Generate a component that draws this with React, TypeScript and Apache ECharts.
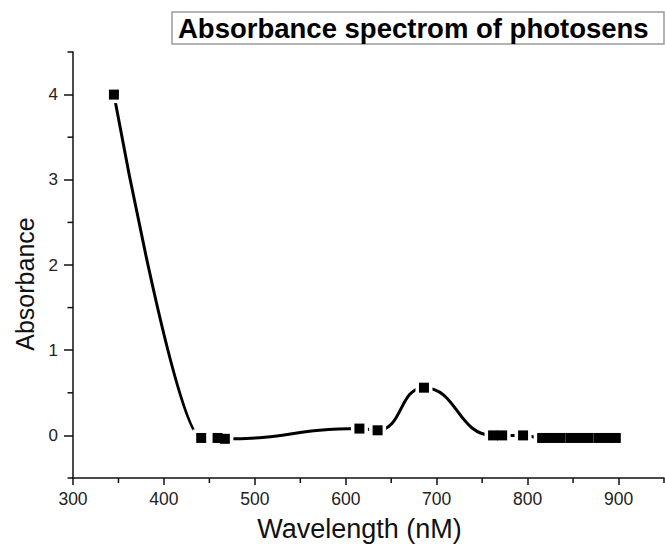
import React, { useEffect, useRef } from "react";
import * as echarts from "echarts";

const titleText = "Absorbance spectrom of photosens";
const xName = "Wavelength (nM)";
const yName = "Absorbance";

const wavelengths = [345, 441, 459, 467, 615, 635, 686, 762, 772, 795, 816, 826, 836, 847, 857, 867, 878, 888, 897];
const absorbance = [4.0, -0.03, -0.03, -0.04, 0.08, 0.06, 0.56, 0.0, 0.0, 0.0, -0.03, -0.03, -0.03, -0.03, -0.03, -0.03, -0.03, -0.03, -0.03];

const xMajorTicks = [300, 400, 500, 600, 700, 800, 900];
const xMinorTicks = [350, 450, 550, 650, 750, 850, 950];
const yMajorTicks = [0, 1, 2, 3, 4];
const yMinorTicks = [-0.5, 0.5, 1.5, 2.5, 3.5, 4.5];

const X_MIN = 300;
const X_MAX = 950;
const Y_MIN = -0.5;
const Y_MAX = 4.5;

const FONT = "Liberation Sans, Arial, sans-serif";
const W = 665;
const H = 547;
const GRID = { left: 73, right: 1, top: 52, bottom: 69 };

export default function App() {
  const ref = useRef<HTMLDivElement>(null);
  useEffect(() => {
    if (!ref.current) return;
    const chart = echarts.init(ref.current, null, { renderer: "svg" });
    const pts = wavelengths.map((w, i) => [w, absorbance[i]]);
    chart.setOption({
      animation: false,
      backgroundColor: "#fff",
      title: {
        text: titleText,
        left: 172,
        top: 12,
        borderColor: "#9a9a9a",
        borderWidth: 1.5,
        padding: [2, 16, 2, 6],
        textStyle: { fontFamily: FONT, fontSize: 27.5, fontWeight: "bold", color: "#000" },
      },
      grid: GRID,
      xAxis: {
        type: "value",
        min: X_MIN,
        max: X_MAX,
        position: "bottom",
        name: xName,
        nameLocation: "middle",
        nameGap: 37,
        nameTextStyle: { fontFamily: FONT, fontSize: 27, color: "#111", padding: [0, 18, 0, 0] },
        axisLine: { show: true, onZero: false, lineStyle: { color: "#111", width: 1.5 } },
        axisTick: { show: true, length: 7, customValues: xMajorTicks, lineStyle: { color: "#111", width: 1.5 } },
        axisLabel: { customValues: xMajorTicks, fontFamily: FONT, fontSize: 17.5, color: "#222", margin: 12 },
        splitLine: { show: false },
      },
      yAxis: {
        type: "value",
        min: Y_MIN,
        max: Y_MAX,
        position: "left",
        name: yName,
        nameLocation: "middle",
        nameGap: 36,
        nameTextStyle: { fontFamily: FONT, fontSize: 25, color: "#111", padding: [0, 38, 0, 0] },
        axisLine: { show: true, onZero: false, lineStyle: { color: "#111", width: 1.5 } },
        axisTick: { show: true, length: 9, customValues: yMajorTicks, lineStyle: { color: "#111", width: 1.5 } },
        axisLabel: { customValues: yMajorTicks, fontFamily: FONT, fontSize: 17, color: "#222", margin: 15 },
        splitLine: { show: false },
      },
      series: [
        {
          type: "line",
          data: pts.slice(0, 3),
          smooth: 0.25,
          showSymbol: false,
          lineStyle: { color: "#000", width: 3 },
          z: 1,
        },
        {
          type: "line",
          data: pts.slice(1),
          smooth: 0.5,
          showSymbol: false,
          lineStyle: { color: "#000", width: 3 },
          z: 1,
        },
        {
          type: "scatter",
          data: pts,
          symbol: "rect",
          symbolSize: 17,
          itemStyle: { color: "#fff", opacity: 1 },
          z: 2,
        },
        {
          type: "scatter",
          data: pts,
          symbol: "rect",
          symbolSize: 10,
          itemStyle: { color: "#000", opacity: 1 },
          z: 3,
        },
      ],
    });

    // minor ticks, positioned through the chart's own axis scales
    const tickStyle = { stroke: "#111", lineWidth: 1.5 };
    const minor: any[] = [];
    xMinorTicks.forEach((v) => {
      const p = chart.convertToPixel({ xAxisIndex: 0, yAxisIndex: 0 }, [v, Y_MIN]) as number[];
      if (p) minor.push({ type: "line", z: 100, shape: { x1: p[0], y1: p[1], x2: p[0], y2: p[1] + 5 }, style: tickStyle, silent: true });
    });
    yMinorTicks.forEach((v) => {
      const p = chart.convertToPixel({ xAxisIndex: 0, yAxisIndex: 0 }, [X_MIN, v]) as number[];
      if (p) minor.push({ type: "line", z: 100, shape: { x1: p[0] - 5.5, y1: p[1], x2: p[0], y2: p[1] }, style: tickStyle, silent: true });
    });
    chart.setOption({ graphic: { elements: minor } });

    return () => chart.dispose();
  }, []);
  return <div ref={ref} style={{ width: W, height: H, position: "absolute", left: 0, top: 0 }} />;
}
